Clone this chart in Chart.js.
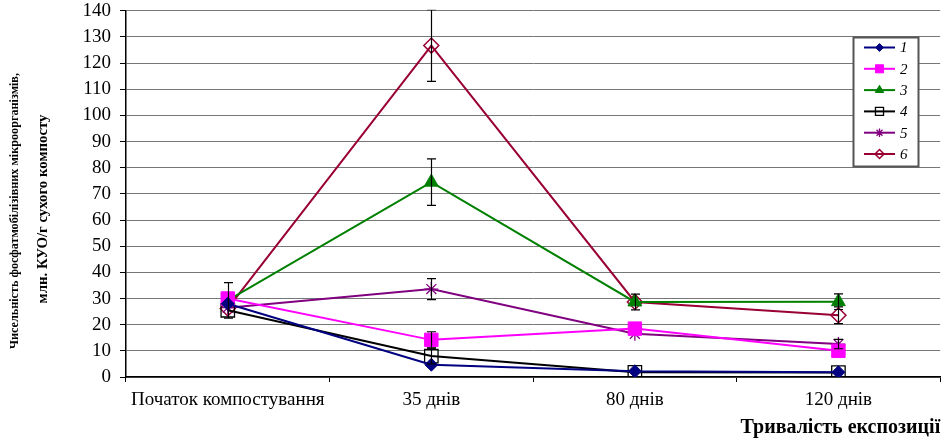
<!DOCTYPE html>
<html>
<head>
<meta charset="utf-8">
<script src="https://cdn.jsdelivr.net/npm/chart.js@4/dist/chart.umd.min.js"></script>
<style>
  html, body { margin: 0; padding: 0; background: #fff; }
  #wrap { width: 951px; height: 441px; position: relative; }
</style>
</head>
<body>
<div id="wrap"><canvas id="c" width="951" height="441"></canvas></div>
<script>
// ---- data ----
const categories = ['Початок компостування', '35 днів', '80 днів', '120 днів'];
const seriesNames = ['1', '2', '3', '4', '5', '6'];
const s1 = [28.0, 4.7, 2.2, 1.8];
const s2 = [30.0, 14.2, 18.5, 10.0];
const s3 = [29.3, 74.5, 28.7, 28.8];
const s4 = [25.5, 8.0, 1.8, 1.7];
const s5 = [26.5, 33.6, 16.5, 12.6];
const s6 = [26.2, 126.7, 28.7, 23.6];
// error bar half-lengths (null = none)
const e1 = [null, null, null, null];
const e2 = [null, 3.1, null, null];
const e3 = [6.8, 8.9, 3.0, 3.0];
const e4 = [null, 3.0, null, null];
const e5 = [null, 4.0, null, 1.8];
const e6 = [null, 13.7, null, 3.2];
const yTicks = [0, 10, 20, 30, 40, 50, 60, 70, 80, 90, 100, 110, 120, 130, 140];
const yTitleLines = ['Чисельність фосфатмобілізівних мікроорганізмів,', 'млн. КУО/г сухого компосту'];
const xTitle = 'Тривалість експозиції';

const values = [s1, s2, s3, s4, s5, s6];
const errors = [e1, e2, e3, e4, e5, e6];
const styles = [
  { color: '#000080', point: 'rectRot', radius: 6.5, fill: '#000080', bw: 1 },
  { color: '#FF00FF', point: 'rect', radius: 9.5, fill: '#FF00FF', bw: 1 },
  { color: '#008000', point: 'triangle', radius: 8, fill: '#008000', bw: 1 },
  { color: '#000000', point: 'rect', radius: 9.5, fill: 'rgba(255,255,255,0)', bw: 1.3 },
  { color: '#800080', point: 'star', radius: 7, fill: '#800080', bw: 1.3 },
  { color: '#990033', point: 'rectRot', radius: 7.5, fill: 'rgba(255,255,255,0)', bw: 1.5 }
];

const datasets = values.map((v, i) => ({
  label: seriesNames[i],
  data: v,
  borderColor: styles[i].color,
  backgroundColor: styles[i].fill,
  borderWidth: 2,
  pointStyle: styles[i].point,
  pointRadius: styles[i].radius,
  pointBorderColor: styles[i].color,
  pointBackgroundColor: styles[i].fill,
  pointBorderWidth: styles[i].bw,
  tension: 0
}));

const errorBarPlugin = {
  id: 'errorBars',
  afterDatasetsDraw(chart) {
    const ctx = chart.ctx, xs = chart.scales.x, ys = chart.scales.y, a = chart.chartArea;
    ctx.save();
    ctx.beginPath();
    ctx.rect(a.left, a.top - 1, a.right - a.left, a.bottom - a.top + 2);
    ctx.clip();
    ctx.strokeStyle = '#000';
    ctx.lineWidth = 1.2;
    errors.forEach((errs, i) => {
      errs.forEach((e, j) => {
        if (e == null) return;
        const v = values[i][j];
        const x = Math.round(xs.getPixelForValue(j)) + 0.5;
        const yt = ys.getPixelForValue(v + e);
        const yb = ys.getPixelForValue(v - e);
        ctx.beginPath();
        ctx.moveTo(x, yt); ctx.lineTo(x, yb);
        ctx.moveTo(x - 4.5, yt); ctx.lineTo(x + 4.5, yt);
        ctx.moveTo(x - 4.5, yb); ctx.lineTo(x + 4.5, yb);
        ctx.stroke();
      });
    });
    ctx.restore();
  }
};

const legendPlugin = {
  id: 'boxLegend',
  afterDraw(chart) {
    const ctx = chart.ctx;
    const bx = 853.5, by = 37.5, bw = 65, bh = 129;
    ctx.save();
    ctx.fillStyle = '#fff';
    ctx.fillRect(bx, by, bw, bh);
    ctx.strokeStyle = '#555';
    ctx.lineWidth = 2;
    ctx.strokeRect(bx, by, bw, bh);
    styles.forEach((s, i) => {
      const y = 47.5 + i * 21.3;
      ctx.strokeStyle = s.color;
      ctx.lineWidth = 2;
      ctx.beginPath();
      ctx.moveTo(864, y); ctx.lineTo(895, y);
      ctx.stroke();
      ctx.fillStyle = s.fill;
      ctx.strokeStyle = s.color;
      ctx.lineWidth = s.bw;
      Chart.helpers.drawPoint(ctx, { pointStyle: s.point, radius: s.radius * 0.6, rotation: 0, borderWidth: s.bw }, 879.5, y);
      ctx.fillStyle = '#000';
      ctx.font = 'italic 15px "Liberation Serif"';
      ctx.textBaseline = 'middle';
      ctx.textAlign = 'left';
      ctx.fillText(seriesNames[i], 900, y + 1);
    });
    ctx.restore();
  }
};

const yTitlePlugin = {
  id: 'yTitle',
  afterDraw(chart) {
    const ctx = chart.ctx;
    ctx.save();
    ctx.fillStyle = '#000';
    ctx.textAlign = 'center';
    ctx.textBaseline = 'middle';
    const xs = [15, 43];
    const ys = [211, 209];
    const sizes = [12.2, 14.8];
    yTitleLines.forEach((t, i) => {
      ctx.save();
      ctx.font = 'bold ' + sizes[i] + 'px "Liberation Serif"';
      ctx.translate(xs[i], ys[i]);
      ctx.rotate(-Math.PI / 2);
      ctx.fillText(t, 0, 0);
      ctx.restore();
    });
    ctx.restore();
  }
};

new Chart(document.getElementById('c'), {
  type: 'line',
  data: { labels: categories, datasets },
  plugins: [errorBarPlugin, legendPlugin, yTitlePlugin],
  options: {
    responsive: false,
    animation: false,
    layout: { padding: { top: 0, right: 8, left: 0, bottom: 0 } },
    plugins: { legend: { display: false }, tooltip: { enabled: false } },
    scales: {
      x: {
        type: 'category',
        offset: true,
        grid: { display: true, offset: true, drawOnChartArea: false, drawTicks: true, tickLength: 5, color: '#000', lineWidth: 1 },
        border: { display: true, color: '#000', width: 1.5 },
        ticks: { color: '#000', font: { family: '"Liberation Serif"', size: 19 }, padding: 7, maxRotation: 0, autoSkip: false },
        title: { display: true, text: xTitle, align: 'end', color: '#000', font: { family: '"Liberation Serif"', size: 20, weight: 'bold' }, padding: { top: 0, bottom: 1 } },
        afterFit(scale) { scale.height = 64; }
      },
      y: {
        min: 0, max: 140,
        afterBuildTicks(scale) { scale.ticks = yTicks.map(v => ({ value: v })); },
        grid: { color: '#777', lineWidth: 1, tickLength: 6, tickColor: '#000', drawTicks: true },
        border: { display: true, color: '#000', width: 1.5 },
        ticks: { color: '#000', font: { family: '"Liberation Serif"', size: 19, lineHeight: 1 }, padding: 9, autoSkip: false },
        afterFit(scale) { scale.width = 126; scale.paddingTop = 10; }
      }
    }
  }
});
</script>
</body>
</html>
